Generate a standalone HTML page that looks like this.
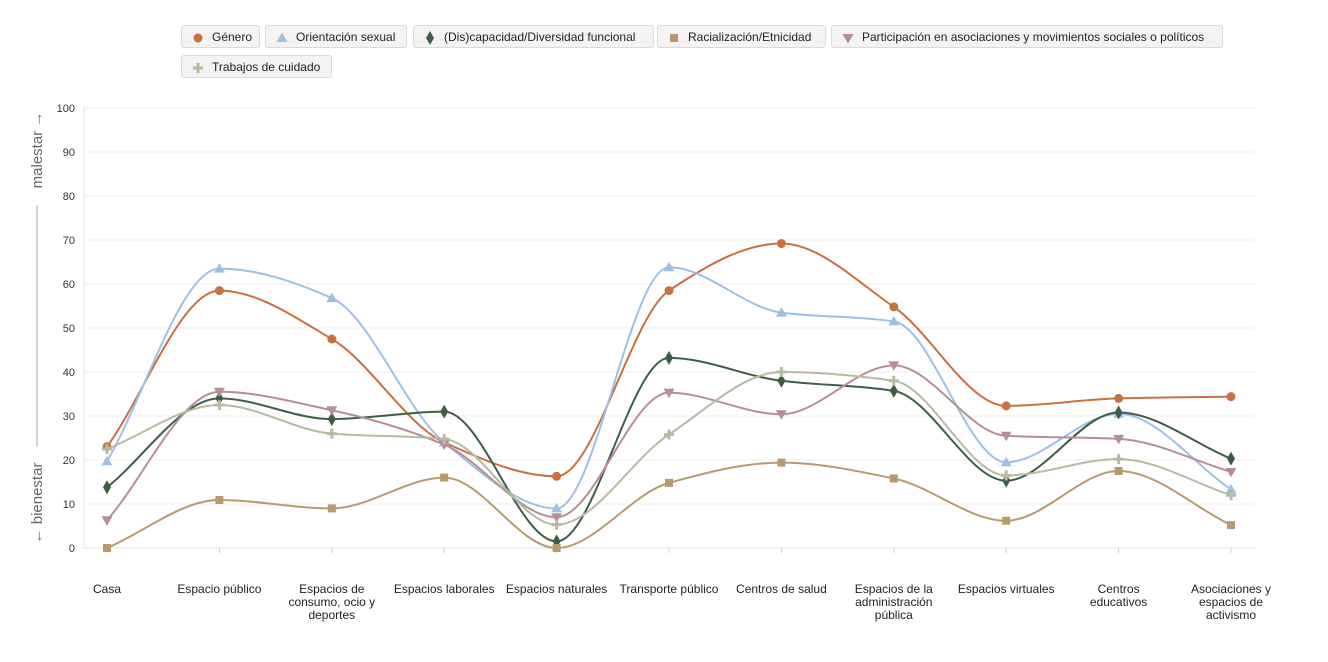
<!DOCTYPE html>
<html><head><meta charset="utf-8"><style>
body{margin:0;width:1328px;height:662px;background:#fff;font-family:"Liberation Sans",sans-serif;overflow:hidden}
.lg{position:absolute;height:23px;box-sizing:border-box;background:#f4f3f1;border:1px solid #dcdad6;border-radius:3px;font-size:12px;color:#222;line-height:23px;padding-left:30px;white-space:nowrap}
.lg svg{position:absolute;left:9px;top:5px}
</style></head><body>
<div id="legend"></div>
<svg id="chart" width="1328" height="662" style="position:absolute;left:0;top:0"></svg>
<script>
const categories=["Casa","Espacio público","Espacios de|consumo, ocio y|deportes","Espacios laborales","Espacios naturales","Transporte público","Centros de salud","Espacios de la|administración|pública","Espacios virtuales","Centros|educativos","Asociaciones y|espacios de|activismo"];
const seriesNames=["Género","Orientación sexual","(Dis)capacidad/Diversidad funcional","Racialización/Etnicidad","Participación en asociaciones y movimientos sociales o políticos","Trabajos de cuidado"];
const genero=[23,58.5,47.5,24,16.3,58.5,69.2,54.8,32.3,34,34.4];
const orientacion=[19.7,63.5,56.8,24,9,63.8,53.5,51.5,19.5,30.5,13.3];
const discapacidad=[13.8,34,29.3,31,1.5,43.2,38,35.7,15.3,30.8,20.3];
const racializacion=[0,10.9,9,16,0,14.8,19.4,15.8,6.2,17.5,5.2];
const participacion=[6.3,35.5,31.3,23.5,7,35.3,30.4,41.5,25.5,24.8,17.3];
const trabajos=[22.5,32.5,26,24.8,5.3,25.8,40,38,16.5,20.2,12];
const yTicks=[0,10,20,30,40,50,60,70,80,90,100];

const allSeries=[genero,orientacion,discapacidad,racializacion,participacion,trabajos];
const colors=["#c8703f","#9dc0e6","#3d5e45","#b89a6e","#b88e96","#b5bc9f"];
const shapes=["circle","tri","diamond","square","tridown","plus"];
const NS="http://www.w3.org/2000/svg";
const svg=document.getElementById('chart');
const x=i=>107+i*112.4;
const y=v=>548-v*4.4;
function el(t,a,p){const e=document.createElementNS(NS,t);for(const k in a)e.setAttribute(k,a[k]);(p||svg).appendChild(e);return e;}
function marker(s,cx,cy,c,p){
 if(s==="circle")return el('circle',{cx,cy,r:4.5,fill:c},p);
 if(s==="square")return el('rect',{x:cx-4,y:cy-4,width:8,height:8,fill:c},p);
 if(s==="tri")return el('path',{d:`M${cx},${cy-5.5}L${cx+5.5},${cy+4}L${cx-5.5},${cy+4}Z`,fill:c},p);
 if(s==="tridown")return el('path',{d:`M${cx},${cy+5.5}L${cx+5.5},${cy-4}L${cx-5.5},${cy-4}Z`,fill:c},p);
 if(s==="diamond")return el('path',{d:`M${cx},${cy-7}L${cx+4},${cy}L${cx},${cy+7}L${cx-4},${cy}Z`,fill:c},p);
 return el('path',{d:`M${cx-5},${cy}H${cx+5}M${cx},${cy-5}V${cy+5}`,stroke:c,'stroke-width':3},p);
}
yTicks.forEach(t=>{
 const g=el('line',{x1:84,x2:1255,y1:y(t),y2:y(t),stroke:'#efefef'});
 
 const tx=el('text',{x:75,y:y(t)+4,'text-anchor':'end','font-size':11,fill:'#333'});tx.textContent=t;
 
});
el('line',{x1:84,x2:84,y1:106,y2:548,stroke:'#e3e3e3'});
el('line',{x1:84,x2:1255,y1:548,y2:548,stroke:'#e3e3e3'});
categories.forEach((c,i)=>{
 el('line',{x1:x(i),x2:x(i),y1:548,y2:553,stroke:'#ccc'});
 const t=el('text',{x:x(i),y:593,'text-anchor':'middle','font-size':12,fill:'#222'});
 
 c.split('|').forEach((s,k)=>{const ts=el('tspan',{x:x(i),dy:k?13:0},t);ts.textContent=s;});
});
const g1=el('g',{transform:'translate(42,150) rotate(-90)'});
const m=el('text',{'text-anchor':'middle','font-size':15,fill:'#666',y:0},g1);m.textContent='malestar →';

const g2=el('g',{transform:'translate(42,503) rotate(-90)'});
const b=el('text',{'text-anchor':'middle','font-size':15,fill:'#666',y:0},g2);b.textContent='← bienestar';

el('line',{x1:37,x2:37,y1:205,y2:447,stroke:'#aaa'});
// monotone cubic (Fritsch-Carlson)
function path(vals){
 const p=vals.map((v,i)=>[x(i),y(v)]);const n=p.length;
 const d=[],mm=[];
 for(let i=0;i<n-1;i++)d.push((p[i+1][1]-p[i][1])/(p[i+1][0]-p[i][0]));
 for(let i=0;i<n;i++){
  if(i===0)mm.push(d[0]);else if(i===n-1)mm.push(d[n-2]);
  else if(d[i-1]*d[i]<=0)mm.push(0);
  else mm.push(2/(1/d[i-1]+1/d[i]));
 }
 let s=`M${p[0][0]},${p[0][1]}`;
 for(let i=0;i<n-1;i++){const h=(p[i+1][0]-p[i][0])/3;
  s+=`C${p[i][0]+h},${p[i][1]+mm[i]*h} ${p[i+1][0]-h},${p[i+1][1]-mm[i+1]*h} ${p[i+1][0]},${p[i+1][1]}`;}
 return s;
}
allSeries.forEach((vals,s)=>{
 const g=el('g',{});
 const l=el('path',{d:path(vals),fill:'none',stroke:colors[s],'stroke-width':2},g);
 
 vals.forEach((v,i)=>{const mk=marker(shapes[s],x(i),y(v),colors[s],g);
  });
});
const pos=[[181,25,79],[265,25,142],[413,25,241],[657,25,169],[831,25,392],[181,55,151]];
const L=document.getElementById('legend');
seriesNames.forEach((n,s)=>{
 const d=document.createElement('div');d.className='lg';
 
 
 d.style.left=pos[s][0]+'px';d.style.top=pos[s][1]+'px';d.style.width=pos[s][2]+'px';
 const ic=document.createElementNS(NS,'svg');ic.setAttribute('width',14);ic.setAttribute('height',14);
 marker(shapes[s],7,7,colors[s],ic);d.appendChild(ic);
 d.appendChild(document.createTextNode(n));L.appendChild(d);
});
</script>
</body></html>
